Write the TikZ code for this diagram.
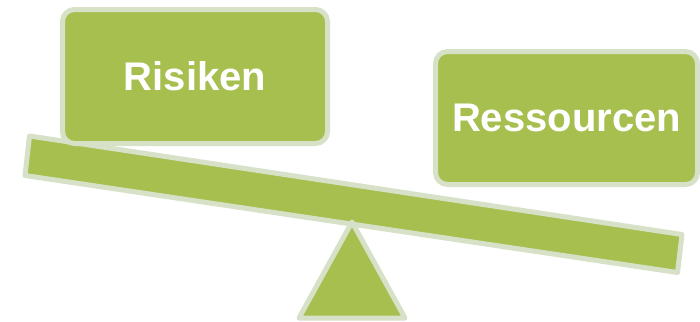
\documentclass[tikz,border=0pt]{standalone}
\usepackage{fontspec}
\setmainfont{Liberation Sans}
\usepackage{xcolor}
\usepackage{tikz}
\usetikzlibrary{positioning}

\definecolor{waagegruen}{RGB}{166,191,79}
\definecolor{waagerand}{RGB}{214,225,200}

\begin{document}
\begin{tikzpicture}[x=0.5pt, y=-0.5pt,
        teil/.style={fill=waagegruen, draw=waagerand, line width=2.5pt, line join=round},
        gewicht/.style={teil, rounded corners=6pt, inner sep=0pt, text=white,
            font=\bfseries\fontsize{20}{22}\selectfont}]
        \useasboundingbox (0,0) rectangle (700,321);
        \coordinate (L1) at (29.5,136);
        \coordinate (L2) at (25,175.5);
        \coordinate (R1) at (682,234.5);
        \coordinate (R2) at (677.5,272.5);
        \coordinate (S)  at (352,222);
        \coordinate (F1) at (299,318);
        \coordinate (F2) at (405,318);
        \draw[teil] (L1) -- (R1) -- (R2) -- (L2) -- cycle;
        \draw[teil] (S) -- (F2) -- (F1) -- cycle;
        \node[gewicht, minimum width=132.5pt, minimum height=67pt] (risiken) at (195,76.5) {Risiken};
        \node[gewicht, minimum width=131pt, minimum height=66.5pt] (ressourcen) at (566.5,118) {Ressourcen};
    \end{tikzpicture}
\end{document}
